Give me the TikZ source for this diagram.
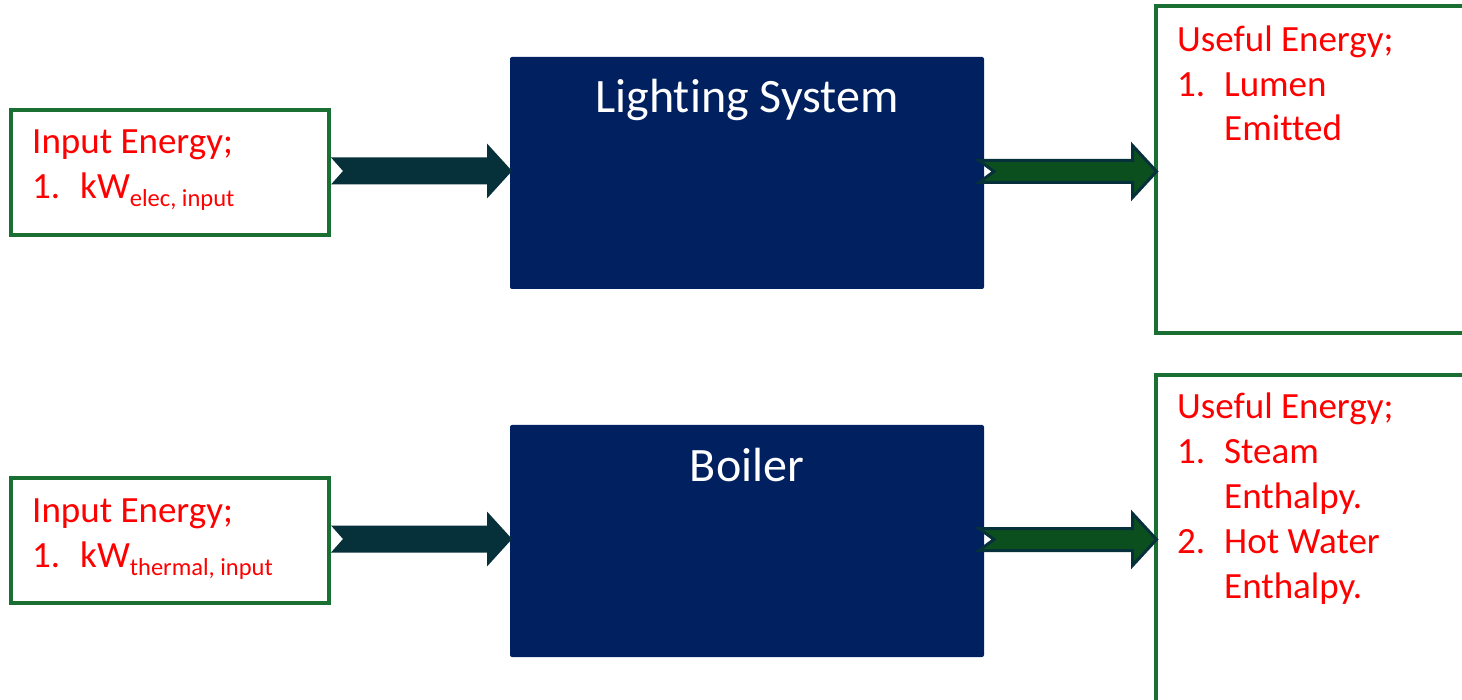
\documentclass[tikz,border=0pt]{standalone}
\usepackage{fontspec}
\setmainfont{Carlito}[RawFeature={-liga;-clig;-dlig;-calt}]
\usetikzlibrary{calc}
\definecolor{boxgreen}{HTML}{1A6F32}
\definecolor{navy}{HTML}{002060}
\definecolor{arrdark}{HTML}{07313A}
\definecolor{arrgreen}{HTML}{0C4F1E}
\definecolor{txtred}{HTML}{FF0000}
% #1 style, #2 from, #3 to, #4 tail shift, #5 tip shift, #6 shaft half, #7 head half, #8 head length, #9 notch
\newcommand{\blockarr}[9]{%
 \path[#1] let \p1=(#2), \p2=(#3) in
  ({\x1+#4},{\y1+#6}) -- ({\x2+#5-#8},{\y1+#6}) -- ({\x2+#5-#8},{\y1+#7}) -- ({\x2+#5},\y1)
  -- ({\x2+#5-#8},{\y1-#7}) -- ({\x2+#5-#8},{\y1-#6}) -- ({\x1+#4},{\y1-#6}) -- ({\x1+#4+#9},\y1) -- cycle;}
\begin{document}
\begin{tikzpicture}[x=1pt,y=-1pt,
  inbox/.style={draw=boxgreen, line width=4pt, fill=white, rectangle, inner sep=0pt, outer sep=0pt, anchor=north west},
  sysbox/.style={fill=navy, rectangle, rounded corners=2pt, inner sep=0pt, outer sep=0pt, anchor=north west},
  redtxt/.style={text=txtred, font=\fontsize{37}{45}\selectfont, anchor=base west, inner sep=0pt},
  systxt/.style={text=white, font=\fontsize{48}{56}\selectfont, anchor=base, inner sep=0pt},
  inarrow/.style={fill=arrdark},
  outarrow/.style={fill=arrgreen, draw=arrdark, line width=3pt, line join=miter}]
\useasboundingbox (0,0) rectangle (1462,700);
\clip (0,0) rectangle (1462,700);

% boxes
\node[inbox, minimum width=318pt, minimum height=125pt] (in1) at (11,110) {};
\node[inbox, minimum width=318pt, minimum height=125pt] (in2) at (11,478) {};
\node[sysbox, minimum width=474pt, minimum height=232pt] (ls) at (510,57) {};
\node[sysbox, minimum width=474pt, minimum height=232pt] (bo) at (510,425) {};
\node[inbox, minimum width=330pt, minimum height=327pt] (out1) at (1155.5,6.5) {};
\node[inbox, minimum width=330pt, minimum height=340pt] (out2) at (1155.5,375) {};

% arrows
\blockarr{inarrow}{$(in1.east)+(0,-1.5)$}{ls.west}{2pt}{2pt}{13.5pt}{27.5pt}{25pt}{12pt}
\blockarr{inarrow}{$(in2.east)+(0,-1.5)$}{bo.west}{2pt}{2pt}{13.5pt}{27.5pt}{25pt}{12pt}
\blockarr{outarrow}{$(ls.east)+(0,-1.5)$}{out1.west}{-5pt}{1pt}{11pt}{26pt}{24pt}{15pt}
\blockarr{outarrow}{$(bo.east)+(0,-1.5)$}{out2.west}{-5pt}{1pt}{11pt}{26pt}{24pt}{15pt}

% system labels
\node[systxt] (lst) at (747,113) {Lighting System};
\node[systxt] (bot) at (747,481) {Boiler};

% input texts
\node[redtxt] (i1a) at (32,154) {Input Energy;};
\node[redtxt] (i1b) at (32,199) {1.};
\node[redtxt] (i1c) at (80,199) {kW\raisebox{-8pt}{\fontsize{24.5}{24}\selectfont elec, input}};
\node[redtxt] (i2a) at (32,522) {Input Energy;};
\node[redtxt] (i2b) at (32,567) {1.};
\node[redtxt] (i2c) at (80,567) {kW\raisebox{-8pt}{\fontsize{24.5}{24}\selectfont thermal, input}};

% output texts
\node[redtxt] (o1a) at (1177,52) {Useful Energy;};
\node[redtxt] (o1b) at (1177,97) {1.};
\node[redtxt] (o1c) at (1224,97) {Lumen};
\node[redtxt] (o1d) at (1224,141) {Emitted};

\node[redtxt] (o2a) at (1177,418) {Useful Energy;};
\node[redtxt] (o2b) at (1177,463) {1.};
\node[redtxt] (o2c) at (1224,463) {Steam};
\node[redtxt] (o2d) at (1224,508) {Enthalpy.};
\node[redtxt] (o2e) at (1177,553) {2.};
\node[redtxt] (o2f) at (1224,553) {Hot Water};
\node[redtxt] (o2g) at (1224,598) {Enthalpy.};
\end{tikzpicture}
\end{document}
